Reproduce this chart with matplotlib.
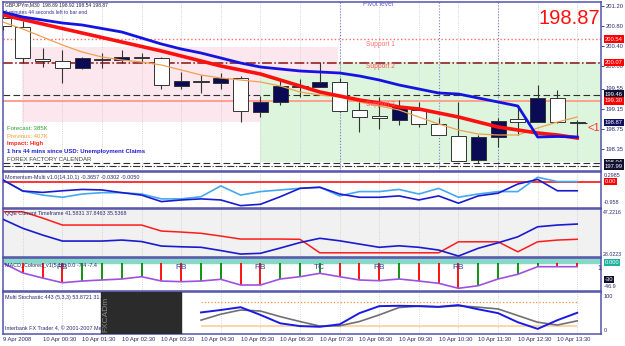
import numpy as np
import matplotlib
matplotlib.use('Agg')
import matplotlib.pyplot as plt
from matplotlib.patches import Rectangle

plt.rcParams['font.family'] = ['Liberation Sans', 'DejaVu Sans']

W, H = 625, 346
NAVY = '#2a2a70'
BORDER = '#5252a8'

# GBPJPYm M30 bars, bar 0 = 9 Apr 23:30
bars = np.arange(30)
opens = [200.96, 200.78, 200.14, 200.10, 199.96, 200.14, 200.12, 200.18, 200.16, 199.60,
         199.70, 199.66, 199.76, 199.08, 199.28, 199.60, 199.58, 199.68, 199.12, 199.00,
         198.92, 199.12, 198.84, 198.60, 198.12, 198.58, 198.94, 198.88, 199.36, 198.89]
highs = [201.02, 200.90, 200.36, 200.32, 200.18, 200.26, 200.32, 200.26, 200.18, 199.88,
         199.82, 199.86, 199.80, 199.40, 199.72, 199.74, 200.08, 199.76, 199.32, 199.38,
         199.32, 199.28, 198.96, 199.28, 198.62, 198.96, 199.18, 199.62, 199.52, 198.92]
lows = [200.72, 200.06, 199.98, 199.66, 199.94, 199.96, 200.06, 200.06, 199.54, 199.54,
        199.46, 199.54, 198.88, 198.98, 199.22, 199.38, 199.58, 199.08, 198.68, 198.74,
        198.82, 198.78, 198.62, 198.10, 198.06, 198.38, 198.62, 198.88, 198.86, 198.54]
closes = [200.80, 200.16, 200.10, 199.96, 200.16, 200.12, 200.18, 200.17, 199.62, 199.70,
          199.68, 199.76, 199.10, 199.28, 199.60, 199.58, 199.68, 199.10, 198.98, 198.96,
          199.20, 198.84, 198.62, 198.10, 198.58, 198.90, 198.88, 199.36, 198.88, 198.87]

ma_blue = [201.08, 200.98, 200.92, 200.86, 200.82, 200.75, 200.68, 200.56, 200.44, 200.34,
           200.26, 200.16, 200.06, 199.98, 199.94, 199.90, 199.88, 199.86, 199.80, 199.72,
           199.62, 199.54, 199.46, 199.44, 199.36, 199.28, 199.20, 198.58, 198.59, 198.58]
ma_red = [201.02, 200.93, 200.84, 200.75, 200.66, 200.57, 200.48, 200.39, 200.30, 200.20,
          200.10, 200.00, 199.92, 199.84, 199.72, 199.60, 199.48, 199.40, 199.32, 199.26,
          199.18, 199.14, 199.06, 198.98, 198.88, 198.78, 198.72, 198.66, 198.62, 198.56]
ma_orange = [200.88, 200.74, 200.58, 200.42, 200.28, 200.18, 200.12, 200.08, 200.02, 199.92,
             199.82, 199.76, 199.72, 199.68, 199.60, 199.48, 199.42, 199.38, 199.28, 199.20,
             199.12, 198.98, 198.84, 198.72, 198.64, 198.62, 198.62, 198.76, 198.88, 198.98]

price_ticks = [201.20, 200.80, 200.40, 200.00, 199.55, 199.15, 198.75, 198.35]
separator_bars = [17, 22, 25]

mom_dark = [0.06, -0.35, -0.40, -0.34, -0.29, -0.31, -0.41, -0.50, -0.74, -0.68,
            -0.64, -0.68, -0.89, -0.84, -0.56, -0.25, -0.21, -0.46, -0.58, -0.58,
            -0.53, -0.68, -0.53, -0.80, -0.53, -0.43, -0.09, 0.08, -0.34, -0.34]
mom_light = [0.06, -0.35, -0.50, -0.58, -0.46, -0.41, -0.41, -0.46, -0.64, -0.64,
             -0.56, -0.16, -0.50, -0.37, -0.31, -0.25, -0.21, -0.53, -0.37, -0.37,
             -0.29, -0.46, -0.25, -0.58, -0.46, -0.37, -0.37, 0.16, 0.00, 0.00]

qqe_blue = [43.5, 39.9, 37.2, 34.8, 34.8, 34.8, 35.2, 34.6, 32.8, 32.5,
            32.3, 31.0, 29.6, 29.9, 32.0, 34.2, 35.9, 34.9, 33.6, 32.3,
            32.9, 32.3, 31.2, 28.8, 31.9, 34.1, 36.5, 40.5, 41.2, 41.6]
qqe_red = [46.5, 46.5, 44.0, 41.2, 41.2, 41.2, 41.2, 41.2, 38.8, 38.4,
           37.9, 36.8, 35.6, 35.6, 35.6, 35.5, 30.1, 30.1, 30.1, 30.1,
           30.1, 30.1, 30.1, 34.5, 34.5, 34.5, 30.5, 34.5, 35.2, 35.5]

macd_line = [-0.6, -18.9, -28.1, -36.7, -33.6, -31.7, -29.9, -25.7, -33.6, -34.8,
             -33.6, -30.5, -40.9, -40.9, -29.9, -25.7, -19.5, -25.7, -31.7, -33.0,
             -29.9, -33.6, -37.8, -46.9, -42.2, -29.9, -21.3, -7.4, -7.4, -7.4]
macd_colors = ['r', 'r', 'r', 'r', 'g', 'g', 'g', 'g', 'r', 'r',
               'g', 'g', 'r', 'r', 'g', 'g', 'g', 'r', 'r', 'r',
               'g', 'r', 'r', 'r', 'g', 'g', 'g', 'g', 'r', 'r']
macd_mark_bars = [3, 9, 13, 16, 19, 23]
macd_marks = ['RB', 'RB', 'RB', 'TC', 'RB', 'RB']

stoch_bars = np.arange(10, 30)
stoch_main = [55, 62, 70, 48, 24, 16, 14, 21, 53, 73, 74, 73, 71, 76, 64, 53, 27, 8, 33, 54]
stoch_signal = [33, 50, 62, 59, 43, 29, 16, 17, 29, 48, 69, 73, 71, 74, 70, 65, 46, 27, 19, 31]

time_bars = [0, 2, 4, 6, 8, 10, 12, 14, 16, 18, 20, 22, 24, 26, 28]
time_labels = ['9 Apr 2008', '10 Apr 00:30', '10 Apr 01:30', '10 Apr 02:30', '10 Apr 03:30',
               '10 Apr 04:30', '10 Apr 05:30', '10 Apr 06:30', '10 Apr 07:30', '10 Apr 08:30',
               '10 Apr 09:30', '10 Apr 10:30', '10 Apr 11:30', '10 Apr 12:30', '10 Apr 13:30']


def rect(x0, y0, x1, y1):
    return [x0 / W, 1 - y1 / H, (x1 - x0) / W, (y1 - y0) / H]


def ftext(x, y, s, **kw):
    kw.setdefault('va', 'center')
    kw.setdefault('ha', 'left')
    fig.text(x / W, 1 - y / H, s, **kw)


def tag(ax, y, s, fc, fg='white'):
    ax.text(1.006, y, s, transform=ax.get_yaxis_transform(), fontsize=4.2, color=fg,
            va='center', ha='left', clip_on=False,
            bbox=dict(boxstyle='square,pad=0.18', fc=fc, ec='none'))


def setup(ax, ylim, face='white'):
    ax.set_xlim(0, 30.2)
    ax.set_ylim(*ylim)
    ax.set_facecolor(face)
    ax.set_xticks([])
    ax.set_yticks([])
    for sp in ax.spines.values():
        sp.set_color(BORDER)
        sp.set_linewidth(1.1)
    ax.vlines(bars[1::2], ylim[0], ylim[1], colors='#c8c8c8', linestyles=':', lw=0.6, zorder=0.5)


fig = plt.figure(figsize=(W / 100, H / 100), dpi=100)

# ---------------- main price pane ----------------
ax = fig.add_axes(rect(3, 2, 601, 171))
setup(ax, (197.90, 201.28))
ax.add_patch(Rectangle((0.95, 198.88), 15.95, 1.50, fc='#fbe7ed', ec='none', zorder=0.2))
ax.add_patch(Rectangle((13.0, 198.08), 3.9, 1.74, fc='#dcf5dc', ec='none', zorder=0.3))
ax.add_patch(Rectangle((16.9, 198.08), 14.0, 2.00, fc='#dcf5dc', ec='none', zorder=0.3))
ax.vlines(separator_bars, 197.90, 201.28, colors='#7c7cd8', linestyles=':', lw=0.8, zorder=0.6)

ax.axhline(200.54, color='#ff6a6a', ls=':', lw=1.0, zorder=1)
ax.axhline(200.07, color='#8b1010', ls='-.', lw=1.1, zorder=1)
ax.axhline(199.42, color='#303030', ls=(0, (6, 3)), lw=0.8, zorder=1)
ax.axhline(199.30, color='#ffa08c', lw=1.4, zorder=1)
ax.axhline(198.07, color='#303030', ls=(0, (6, 3)), lw=0.8, zorder=1)
ax.axhline(198.00, color='#303030', ls='-.', lw=0.8, zorder=1)

for i in bars:
    o, hi, lo, c = opens[i], highs[i], lows[i], closes[i]
    ax.vlines(i, lo, hi, colors='#333333', lw=0.8, zorder=3)
    fc = 'white' if c <= o else '#0b0b55'
    ax.add_patch(Rectangle((i - 0.38, min(o, c)), 0.76, max(abs(c - o), 0.006),
                           fc=fc, ec='#333333', lw=0.7, zorder=4))
ax.hlines(closes[-1], bars[-1], bars[-1] + 0.5, colors='#333333', lw=0.8, zorder=4)

ax.plot(bars, ma_orange, color='#f0a050', lw=0.9, zorder=5)
ax.plot(bars, ma_red, color='#ff1010', lw=2.6, zorder=5)
ax.plot(bars, ma_blue, color='#1414e0', lw=2.0, zorder=6)

ax.yaxis.tick_right()
ax.set_yticks(price_ticks)
ax.set_yticklabels(['%.2f' % p for p in price_ticks])
ax.tick_params(axis='y', labelsize=4.2, colors=NAVY, length=2, width=0.6, pad=1.5)
tag(ax, 200.54, '200.54', '#ff0000')
tag(ax, 200.07, '200.07', '#ff0000')
tag(ax, 199.44, '199.46', '#101030')
tag(ax, 199.30, '199.30', '#ff0000')
tag(ax, closes[-1], '%.2f' % closes[-1], '#101060')
tag(ax, 198.07, '198.04', '#101030')
tag(ax, 198.00, '197.99', '#101030')

ftext(5, 5, 'GBPJPYm,M30  198.89 198.92 198.54 198.87', fontsize=3.6, color='#202040')
ftext(5, 13, '1 minutes 44 seconds left to bar end', fontsize=3.6, color='#3030a0')
ftext(600, 18, '%.2f' % closes[-1], fontsize=14.5, color='#ff1010', ha='right')
ftext(363, 5, 'Pivot level', fontsize=4.8, color='#6060d0')
ftext(366, 44, 'Support 1', fontsize=4.8, color='#ff7070')
ftext(366, 66, 'Support 2', fontsize=4.8, color='#ff5050')
ftext(366, 105, 'Support 3', fontsize=4.8, color='#ff6060')
ftext(588, 128, '<1', fontsize=8, color='#ff3030')
ftext(7, 128, 'Forecast: 385K', fontsize=4.3, color='#30a030')
ftext(7, 136, 'Previous: 407K', fontsize=4.3, color='#f0a030')
ftext(7, 144, 'Impact: High', fontsize=4.3, color='#ff2020', weight='bold')
ftext(7, 152, '1 hrs 44 mins since USD: Unemployment Claims', fontsize=4.3, color='#2020d0', weight='bold')
ftext(7, 159.5, 'FOREX FACTORY CALENDAR', fontsize=4.3, color='#404040')

# ---------------- momentum ----------------
ax = fig.add_axes(rect(3, 172, 601, 208))
setup(ax, (-0.977, 0.354))
ax.axhline(0, color='#ff1010', lw=1.2, zorder=2)
ax.plot(bars, mom_light, color='#45a8f0', lw=1.2, zorder=3)
ax.plot(bars, mom_dark, color='#1a1ad0', lw=1.2, zorder=3)
tag(ax, 0, '0.00', '#ff0000')
ftext(5, 177, 'Momentum-Multi v1.0(14,10,1) -0.3657 -0.0302 -0.0050', fontsize=3.9, color=NAVY)
ftext(604, 175, '0.2985', fontsize=4.0, color=NAVY)
ftext(604, 203, '-0.958', fontsize=4.0, color=NAVY)

# ---------------- QQE ----------------
ax = fig.add_axes(rect(3, 209, 601, 257))
setup(ax, (28.42, 47.62), face='#f1f1f1')
ax.plot(bars, qqe_red, color='#ff1a1a', lw=1.1, zorder=3)
ax.plot(bars, qqe_blue, color='#1a1ad0', lw=1.2, zorder=3)
ftext(5, 214, 'QQE Current Timeframe 41.5831 37.8463 35.5368', fontsize=3.9, color=NAVY)
ftext(603, 212, '47.2216', fontsize=3.8, color=NAVY)
ftext(603, 254, '28.0223', fontsize=3.8, color=NAVY)

# ---------------- MACD colored ----------------
ax = fig.add_axes(rect(3, 258, 601, 291))
setup(ax, (-51.85, 8.5))
ax.axhspan(0, 8.5, color='#88d8ca', zorder=1)
cmap = {'r': '#ff0000', 'g': '#008a00'}
ax.vlines(bars, 0, macd_line, colors=[cmap[c] for c in macd_colors], lw=1.3, zorder=2)
ax.plot(bars, macd_line, color='#a050e0', lw=1.2, zorder=3)
for b, s in zip(macd_mark_bars, macd_marks):
    ax.text(b, -8, s, fontsize=6, color='#404090', ha='center', va='center', zorder=4)
ftext(5, 266, 'MACD_Colored_v1(5,10) 0.0 -7.4 -7.4', fontsize=3.9, color=NAVY)
ftext(597, 268, '1', fontsize=5, color=NAVY)
tag(ax, 0, '0.000', '#20b0a0')
tag(ax, -30, '-30', '#101030')
ftext(604, 286, '-46.9', fontsize=4.0, color=NAVY)

# ---------------- multi stochastic ----------------
ax = fig.add_axes(rect(3, 292, 601, 334))
setup(ax, (-6.6, 113.4))
ax.hlines(85, stoch_bars[0], stoch_bars[-1], colors='#ff8c40', linestyles=':', lw=0.9, zorder=2)
ax.hlines(15, stoch_bars[0], stoch_bars[-1], colors='#ffcc99', lw=1.2, zorder=2)
ax.plot(stoch_bars, stoch_signal, color='#707070', lw=1.2, zorder=3)
ax.plot(stoch_bars, stoch_main, color='#1a1ae6', lw=1.4, zorder=3)
ax.text(5 / W, 1 - 298 / H, 'Multi Stochastic 443 (5,3,3) 53.8721 31.3965', transform=fig.transFigure,
        fontsize=3.9, color=NAVY, va='center', zorder=1)
ax.text(5 / W, 1 - 328 / H, 'Interbank FX Trader 4, \u00a9 2001-2007 MetaQuotes Software Corp.',
        transform=fig.transFigure, fontsize=3.9, color=NAVY, va='center', zorder=1)
ax.axvspan(4.95, 9.0, color='#2b2b2b', zorder=5)
ax.text(5.2, 50, 'FXCADm', rotation=90, fontsize=6, color='#8a8a8a', ha='center', va='center', zorder=6)
ftext(604, 297, '100', fontsize=4.0, color=NAVY)
ftext(604, 331, '0', fontsize=4.0, color=NAVY)

ax.set_xticks(time_bars)
ax.set_xticklabels(time_labels, ha='left')
ax.tick_params(axis='x', length=0, pad=2.5, labelsize=4.2, colors=NAVY)

fig.savefig('out.png', dpi=100)
